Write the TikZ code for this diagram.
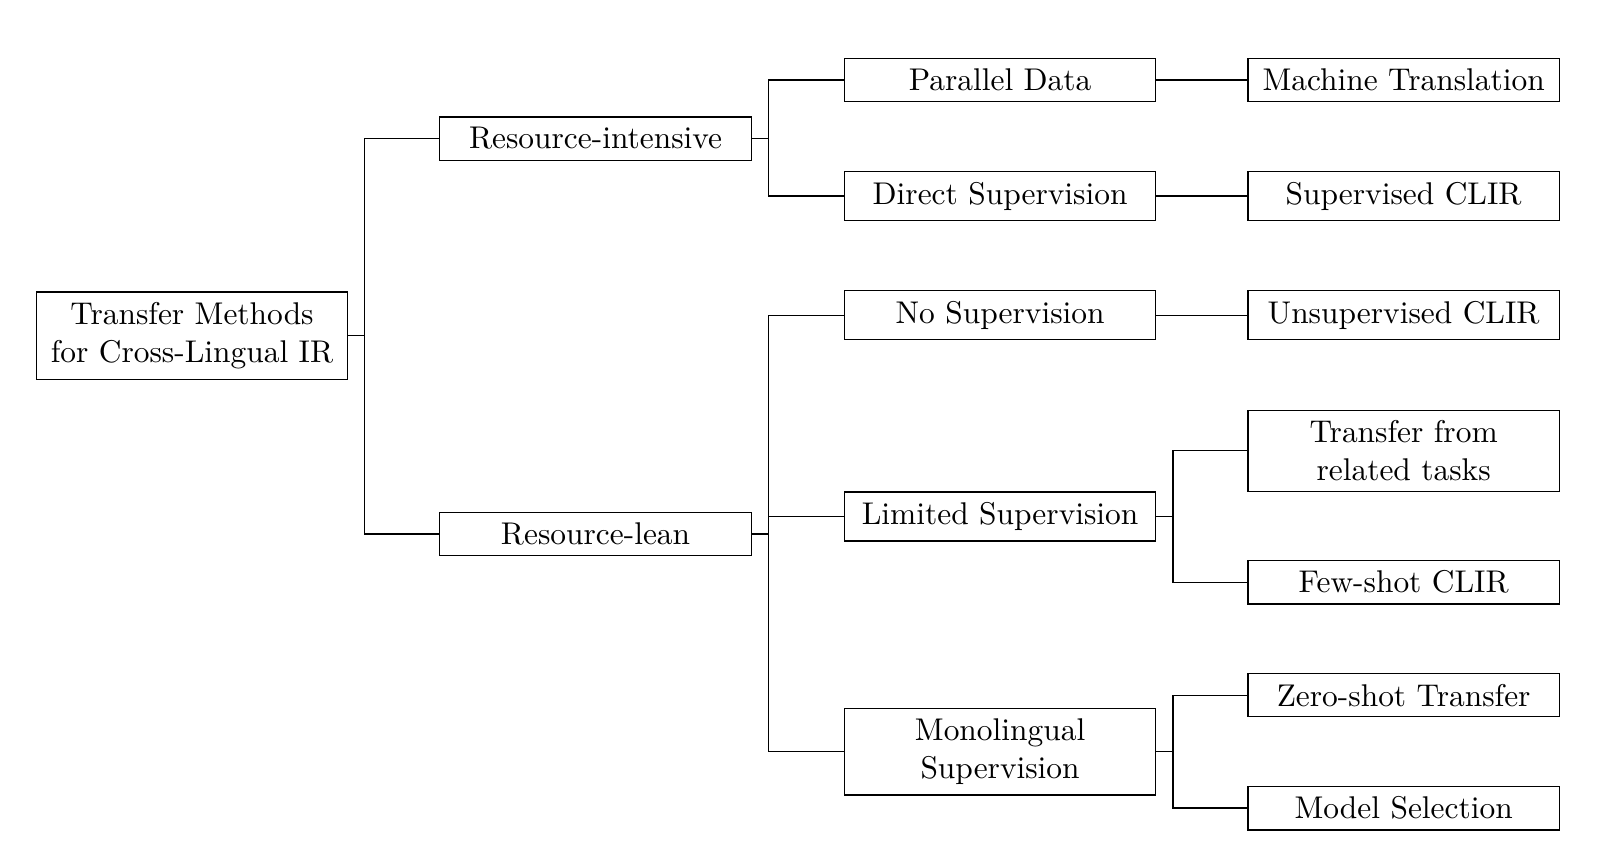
\documentclass[tikz,border=0pt]{standalone}
\usepackage{tikz}
\usetikzlibrary{calc}

\begin{document}
\begin{tikzpicture}[x=0.3268pt, y=-0.3268pt,
    box/.style={draw, text width=3.25cm, align=center},
    link/.style={draw}]
    \useasboundingbox (0,0) rectangle (1568,843);

    % Root
    \node[box] (root) at (187,327) {Transfer Methods\\for Cross-Lingual IR};

    % Resources
    \node[box] (intensive) at (580,135) {Resource-intensive};
    \node[box] (lean) at (580,520) {Resource-lean};

    % Supervision
    \node[box] (parallel) at (974,78) {Parallel Data};
    \node[box] (direct) at (974,191) {Direct Supervision};
    \node[box] (nosup) at (974,307) {No Supervision};
    \node[box] (limited) at (974,503) {Limited Supervision};
    \node[box] (mono) at (974,732) {Monolingual\\Supervision};

    % Methods
    \node[box] (mt) at (1367,78) {Machine Translation};
    \node[box] (supclir) at (1367,191) {Supervised CLIR};
    \node[box] (unsupclir) at (1367,307) {Unsupervised CLIR};
    \node[box] (related) at (1367,439) {Transfer from\\related tasks};
    \node[box] (fewshot) at (1367,567) {Few-shot CLIR};
    \node[box] (zeroshot) at (1367,677) {Zero-shot Transfer};
    \node[box] (modelsel) at (1367,787) {Model Selection};

    % Forks
    \draw[link] (root.east) -- ++(16,0) |- (intensive.west);
    \draw[link] (root.east) -- ++(16,0) |- (lean.west);

    \draw[link] (intensive.east) -- ++(16,0) |- (parallel.west);
    \draw[link] (intensive.east) -- ++(16,0) |- (direct.west);

    \draw[link] (lean.east) -- ++(16,0) |- (nosup.west);
    \draw[link] (lean.east) -- ++(16,0) |- (limited.west);
    \draw[link] (lean.east) -- ++(16,0) |- (mono.west);

    \draw[link] (parallel.east) -- (mt.west);
    \draw[link] (direct.east) -- (supclir.west);
    \draw[link] (nosup.east) -- (unsupclir.west);

    \draw[link] (limited.east) -- ++(16,0) |- (related.west);
    \draw[link] (limited.east) -- ++(16,0) |- (fewshot.west);

    \draw[link] (mono.east) -- ++(16,0) |- (zeroshot.west);
    \draw[link] (mono.east) -- ++(16,0) |- (modelsel.west);
\end{tikzpicture}
\end{document}
